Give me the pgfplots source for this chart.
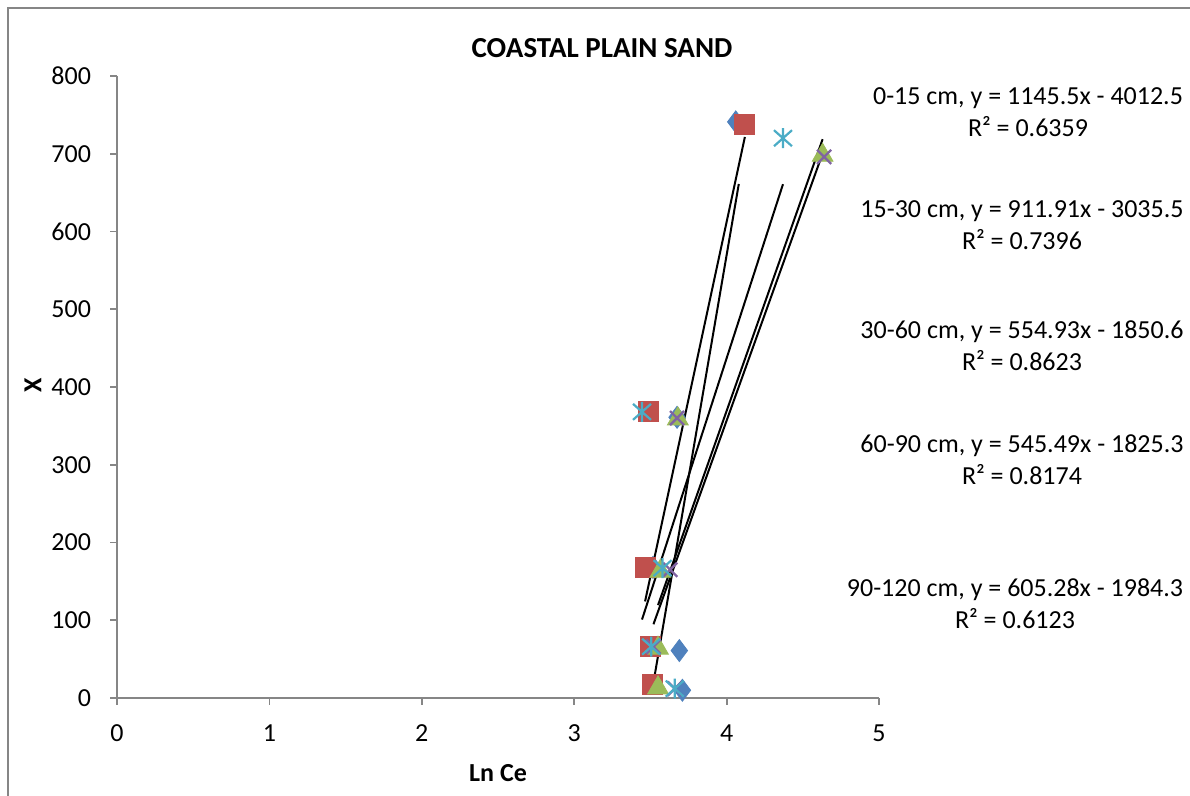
\documentclass[border=0pt]{standalone}
\usepackage{pgfplots}
\pgfplotsset{compat=1.18}
\usepackage{fontspec}
\setmainfont{Carlito}
\definecolor{sA}{HTML}{4F81BD}
\definecolor{sB}{HTML}{C0504D}
\definecolor{sC}{HTML}{9BBB59}
\definecolor{sD}{HTML}{8064A2}
\definecolor{sE}{HTML}{4BACC6}
\definecolor{axgray}{HTML}{868686}
\pgfdeclareplotmark{exstar}{%
  \pgfpathmoveto{\pgfqpoint{0pt}{\pgfplotmarksize}}%
  \pgfpathlineto{\pgfqpoint{0pt}{-\pgfplotmarksize}}%
  \pgfpathmoveto{\pgfqpoint{-0.9\pgfplotmarksize}{0.8\pgfplotmarksize}}%
  \pgfpathlineto{\pgfqpoint{0.9\pgfplotmarksize}{-0.8\pgfplotmarksize}}%
  \pgfpathmoveto{\pgfqpoint{-0.9\pgfplotmarksize}{-0.8\pgfplotmarksize}}%
  \pgfpathlineto{\pgfqpoint{0.9\pgfplotmarksize}{0.8\pgfplotmarksize}}%
  \pgfusepathqstroke}
\begin{document}
\begin{tikzpicture}[x=1pt,y=1pt]
\useasboundingbox (0,0) rectangle (595,398);
\draw[color=axgray, line width=0.8pt] (4,-2) -- (4,394) -- (597,394);
\begin{axis}[
  at={(58.5pt,49pt)}, anchor=south west,
  scale only axis, width=381pt, height=311pt,
  xmin=0, xmax=5, ymin=0, ymax=800,
  axis x line*=bottom, axis y line*=left,
  axis line style={draw=none},
  tick align=outside, major tick length=3.5pt,
  tick style={draw=axgray, line width=0.9pt},
  xtick={0,1,2,3,4,5}, ytick={0,100,200,300,400,500,600,700,800},
  /pgf/number format/assume math mode=true,
  ticklabel style={font=\fontsize{13}{15}\selectfont, text=black},
  yticklabel style={xshift=-6pt},
  xticklabel style={yshift=-6.5pt},
  clip=false,
]
\draw[axgray, line width=0.9pt] (axis cs:0,800) -- (axis cs:0,0) -- (axis cs:5,0);
\addplot[only marks, mark=diamond*, mark size=5.5pt, color=sA, mark options={fill=sA, draw=sA}]
  coordinates {(4.06,741) (3.675,361) (3.517,168) (3.69,61) (3.71,10)};
\addplot[only marks, mark=square*, mark size=5pt, color=sB, mark options={fill=sB, draw=sB}]
  coordinates {(4.12,738) (3.485,368) (3.465,168) (3.50,66) (3.51,17)};
\addplot[only marks, mark=triangle*, mark size=6pt, color=sC, mark options={fill=sC, draw=sC}]
  coordinates {(4.63,698) (3.68,359) (3.565,163) (3.55,64) (3.55,13)};
\addplot[only marks, mark=x, mark size=5pt, color=sD, mark options={line width=1.2pt}]
  coordinates {(4.64,696) (3.675,360) (3.63,165) (3.52,66) (3.66,12)};
\addplot[only marks, mark=exstar, mark size=5pt, color=sE, mark options={line width=1.1pt}]
  coordinates {(4.37,720) (3.445,368) (3.58,167) (3.505,66) (3.66,12)};
% trendlines
\addplot[black, line width=1pt] coordinates {(3.517,16.3) (4.08,661.1)};
\addplot[black, line width=1pt] coordinates {(3.465,124.2) (4.12,721.6)};
\addplot[black, line width=1pt] coordinates {(3.55,119.4) (4.63,718.7)};
\addplot[black, line width=1pt] coordinates {(3.52,94.8) (4.64,705.8)};
\addplot[black, line width=1pt] coordinates {(3.445,100.9) (4.37,660.8)};
\end{axis}
\node[font=\fontsize{14.5}{17}\selectfont\bfseries] at (301,374) {COASTAL PLAIN SAND};
\node[font=\fontsize{13}{15}\selectfont\bfseries, rotate=90] at (16.5,205.5) {X};
\node[font=\fontsize{13}{15}\selectfont\bfseries] at (249,11.5) {Ln Ce};
\begin{scope}[every node/.style={align=center, font=\fontsize{13}{16}\selectfont}]
\node at (514,342) {0-15 cm, y = 1145.5x - 4012.5\\R² = 0.6359};
\node at (511,285.5) {15-30 cm, y = 911.91x - 3035.5\\R² = 0.7396};
\node at (511,225) {30-60 cm, y = 554.93x - 1850.6\\R² = 0.8623};
\node at (511,168) {60-90 cm, y = 545.49x - 1825.3\\R² = 0.8174};
\node at (507.5,96) {90-120 cm, y = 605.28x - 1984.3\\R² = 0.6123};
\end{scope}
\end{tikzpicture}
\end{document}
